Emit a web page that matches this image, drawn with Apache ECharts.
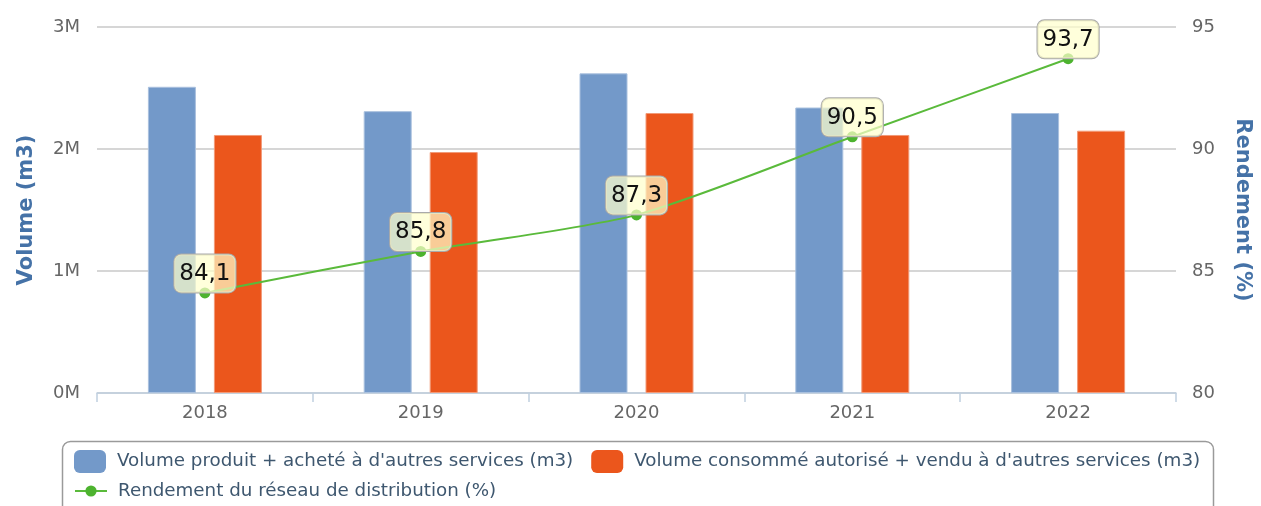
<!DOCTYPE html>
<html>
<head>
<meta charset="utf-8">
<script src="https://cdn.jsdelivr.net/npm/echarts@6/dist/echarts.min.js"></script>
<style>
  html, body { margin: 0; padding: 0; background: #fff; }
  #chart { width: 1261px; height: 506px; }
</style>
</head>
<body>
<div id="chart"></div>
<script>
// years on the x axis
const years = ['2018', '2019', '2020', '2021', '2022'];
// m3
const volumeProduit = [2510000, 2310000, 2620000, 2340000, 2295000];
const volumeConsomme = [2115000, 1975000, 2295000, 2115000, 2150000];
// %
const rendement = [84.1, 85.8, 87.3, 90.5, 93.7];

const seriesNames = [
  "Volume produit + acheté à d'autres services (m3)",
  "Volume consommé autorisé + vendu à d'autres services (m3)",
  'Rendement du réseau de distribution (%)'
];

const font = 'DejaVu Sans';
const chart = echarts.init(document.getElementById('chart'));

const legendText = { fontSize: 18.3, color: '#3E576F', fontFamily: font, padding: [0, 0, 0, 6] };

const option = {
  animation: false,
  textStyle: { fontFamily: font },
  grid: { left: 97, right: 84, top: 27, bottom: 113 },
  legend: [
    {
      data: [seriesNames[0], seriesNames[1]],
      left: 74,
      top: 450,
      padding: 0,
      itemWidth: 32,
      itemHeight: 23,
      itemGap: 18,
      icon: 'roundRect',
      itemStyle: { borderWidth: 0 },
      textStyle: legendText
    },
    {
      data: [seriesNames[2]],
      left: 74,
      top: 482,
      padding: 0,
      itemWidth: 32,
      itemHeight: 14,
      textStyle: legendText
    }
  ],
  graphic: [
    {
      type: 'rect',
      left: 60,
      top: 439,
      shape: { width: 1151, height: 90, r: 8 },
      style: { fill: 'none', stroke: '#9a9a9a', lineWidth: 1.5 },
      silent: true
    }
  ],
  xAxis: {
    type: 'category',
    data: years,
    axisLine: { lineStyle: { color: '#C0D0E0', width: 1.5 } },
    axisTick: { show: true, length: 9, lineStyle: { color: '#C0D0E0', width: 1.5 } },
    axisLabel: { fontSize: 18, color: '#666', margin: 11 }
  },
  yAxis: [
    {
      type: 'value',
      min: 0,
      max: 3000000,
      interval: 1000000,
      name: 'Volume (m3)',
      nameLocation: 'middle',
      nameGap: 60,
      nameTextStyle: { fontSize: 21, fontWeight: 'bold', color: '#4572A7' },
      axisLine: { show: false },
      axisTick: { show: false },
      axisLabel: {
        fontSize: 18,
        color: '#666',
        margin: 17,
        formatter: (v) => (v / 1000000) + 'M'
      },
      splitLine: { lineStyle: { color: '#C8C8C8', width: 1.5 } }
    },
    {
      type: 'value',
      min: 80,
      max: 95,
      interval: 5,
      name: 'Rendement (%)',
      nameLocation: 'middle',
      nameGap: 56,
      nameRotate: -90,
      nameTextStyle: { fontSize: 21, fontWeight: 'bold', color: '#4572A7' },
      axisLine: { show: false },
      axisTick: { show: false },
      axisLabel: { fontSize: 18, color: '#666', margin: 16 },
      splitLine: { show: false }
    }
  ],
  series: [
    {
      name: seriesNames[0],
      type: 'bar',
      data: volumeProduit,
      barWidth: 48,
      barGap: '37.5%',
      itemStyle: { color: '#7399C9', borderColor: '#A9C0DE', borderWidth: 1 }
    },
    {
      name: seriesNames[1],
      type: 'bar',
      data: volumeConsomme,
      barWidth: 48,
      itemStyle: { color: '#EB561C', borderColor: '#F29A78', borderWidth: 1 }
    },
    {
      name: seriesNames[2],
      type: 'line',
      yAxisIndex: 1,
      data: rendement,
      smooth: 0.25,
      symbol: 'circle',
      symbolSize: 11,
      z: 5,
      itemStyle: { color: '#4DB32F' },
      lineStyle: { color: '#5ABA3B', width: 2 },
      label: {
        show: true,
        position: 'top',
        distance: -5,
        fontSize: 23,
        color: '#111',
        backgroundColor: 'rgba(255,255,204,0.7)',
        borderColor: '#aaa',
        borderWidth: 1,
        borderRadius: 7,
        padding: [8, 5, 7, 5],
        formatter: (p) => String(p.value).replace('.', ',')
      }
    }
  ]
};

chart.setOption(option);
</script>
</body>
</html>
